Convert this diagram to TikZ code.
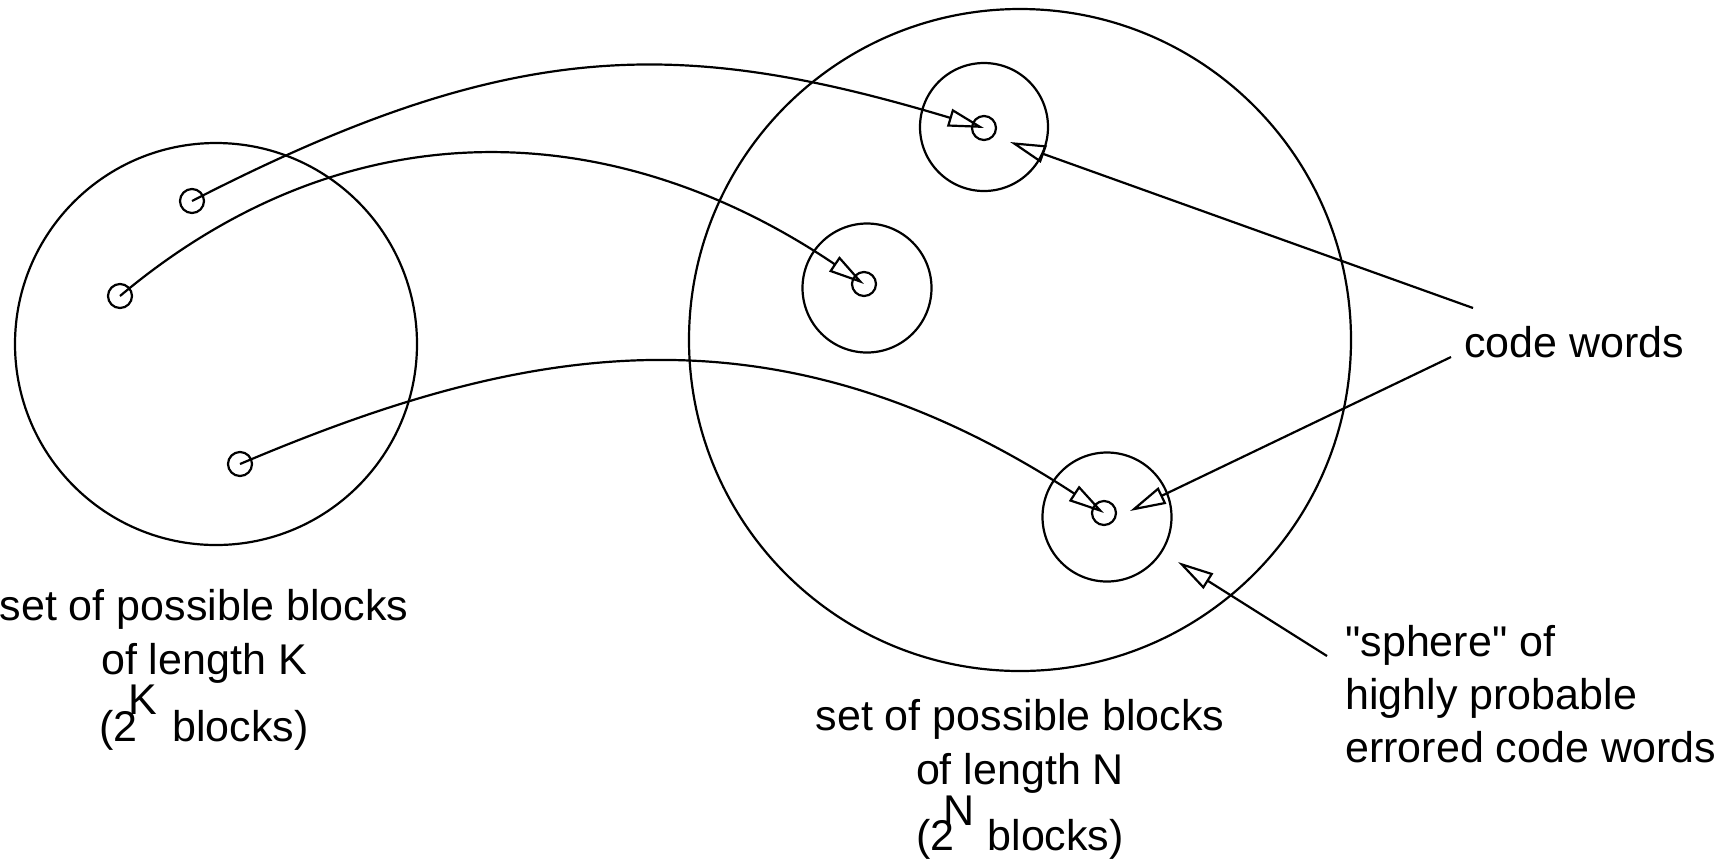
\documentclass[tikz,border=0pt]{standalone}
\usepackage{fontspec}
\setmainfont{Liberation Sans}[Ligatures=TeXOff]
\usetikzlibrary{arrows.meta}
\begin{document}
\begin{tikzpicture}[x=0.5pt,y=-0.5pt,
  ring/.style={circle, draw, line width=1.1pt, inner sep=0pt},
  dot/.style={circle, draw, line width=1.1pt, inner sep=0pt, minimum size=12pt},
  conn/.style={line width=1.1pt, -{Triangle[open,length=18pt,width=9pt]}},
  lbl/.style={font=\fontsize{21.5pt}{27pt}\selectfont, inner sep=0pt, align=center, anchor=base},
  note/.style={font=\fontsize{21.5pt}{26.5pt}\selectfont, inner sep=0pt, align=left, anchor=base west}]
\useasboundingbox (0,0) rectangle (1724,859);
% big sets
\node[ring, minimum size=201pt] (setK) at (216,344) {};
\node[ring, minimum size=331pt] (setN) at (1020,340) {};
% spheres
\node[ring, minimum size=64pt] (sph1) at (984,127) {};
\node[ring, minimum size=64.5pt] (sph2) at (867,288) {};
\node[ring, minimum size=64.5pt] (sph3) at (1107,517) {};
% code words
\node[dot] (c1) at (984,128) {};
\node[dot] (c2) at (864,284) {};
\node[dot] (c3) at (1104,513) {};
% source blocks
\node[dot] (s1) at (192,201) {};
\node[dot] (s2) at (120,296) {};
\node[dot] (s3) at (240,464) {};
% mappings
\draw[conn] (s1.center) .. controls (511,37) and (678,36) .. (c1.center);
\draw[conn] (s2.center) .. controls (350,103) and (615,116) .. (c2.center);
\draw[conn] (s3.center) .. controls (516,347) and (769,294) .. (c3.center);
% labels (anchor=base is the last line's baseline)
\node[lbl] (labK) at (204,741) {set of possible blocks\\of length K\\[6.5pt](2\kern-0.22em\smash{\raisebox{13.5pt}{K}}\kern0.35em blocks)};
\node[lbl] (labN) at (1020,850) {set of possible blocks\\of length N\\[6pt](2\kern-0.25em\smash{\raisebox{12.5pt}{N}}\kern0.3em blocks)};
\node[note] (cw) at (1464,357) {code words};
\node[note] (sph) at (1345,762) {"sphere" of\\highly probable\\errored code words};
% pointers
\coordinate (cwA) at (1473,308);
\coordinate (cwB) at (1451,357);
\coordinate (spA) at (1327,656);
\coordinate (t1) at (1010,142);
\coordinate (t2) at (1130,511);
\coordinate (t3) at (1178,562);
\draw[conn] (cwA) -- (t1);
\draw[conn] (cwB) -- (t2);
\draw[conn] (spA) -- (t3);
\end{tikzpicture}
\end{document}
